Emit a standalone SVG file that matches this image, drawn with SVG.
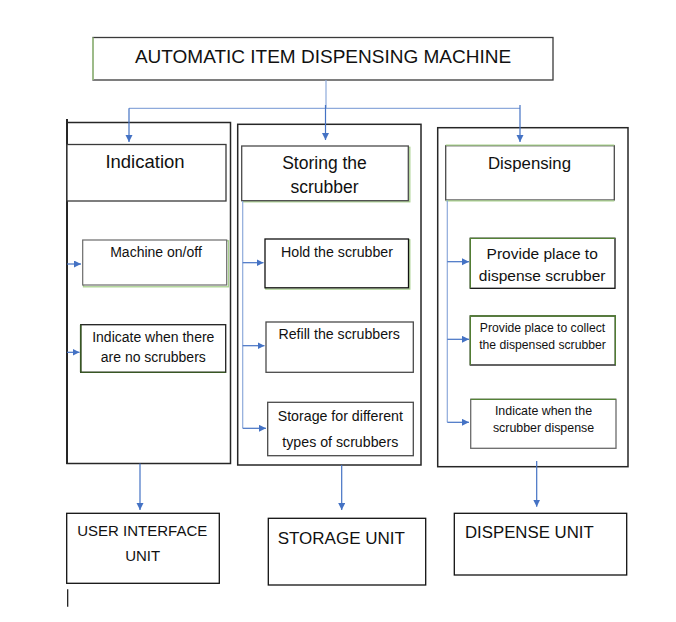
<svg xmlns="http://www.w3.org/2000/svg" width="676" height="622" viewBox="0 0 676 622">
<defs>
<marker id="ah" markerUnits="userSpaceOnUse" markerWidth="8" markerHeight="8" refX="7" refY="3.5" orient="auto">
<path d="M0,0 L7,3.5 L0,7 z" fill="#4472C4"/>
</marker>
<style>
text{font-family:"Liberation Sans",Arial,sans-serif;fill:#111;text-anchor:middle}
.outer{fill:none;stroke:#262626;stroke-width:1.5}
.box{fill:#fff;stroke:#3a3a3a;stroke-width:1.3}
.glow{fill:none;stroke:#a9d18e;stroke-width:1.3}
.dg{fill:none;stroke:#548235;stroke-width:1.3}
.line{fill:none;stroke:#8eaadb;stroke-width:1.2}
.arr{fill:none;stroke:#4472C4;stroke-width:1.2;marker-end:url(#ah)}
.plain{fill:#fff;stroke:#111;stroke-width:1.3}
</style>
</defs>
<rect width="676" height="622" fill="#fff"/>

<g id="title">
<rect x="93" y="37.5" width="460" height="42.5" class="box"/>
<line x1="93" y1="37.5" x2="93" y2="80" stroke="#a9d18e" stroke-width="1.5"/>
<text x="323" y="62.5" font-size="19">AUTOMATIC ITEM DISPENSING MACHINE</text>
</g>

<g id="col-ui">
<rect x="67" y="122.5" width="163.5" height="341" class="outer"/>
<line x1="67" y1="119" x2="67" y2="464" stroke="#262626" stroke-width="2"/>
</g>
<g id="indication">
<rect x="67" y="144.5" width="159" height="56.5" class="box"/>
<text x="145" y="167.5" font-size="18.5">Indication</text>
</g>
<g id="machine-onoff">
<rect x="82.7" y="240" width="145" height="46" class="glow" transform="translate(0.8,0.8)"/>
<rect x="82.7" y="240" width="144" height="45" fill="#fff" stroke="#6b6b6b" stroke-width="1.2"/>
<text x="156" y="257.3" font-size="14">Machine on/off</text>
</g>
<g id="indicate-no">
<rect x="80.7" y="324.7" width="145" height="47.6" fill="#fff" stroke="#1f1f1f" stroke-width="1.3"/>
<line x1="80.7" y1="324.7" x2="80.7" y2="372.3" stroke="#385723" stroke-width="1.6"/>
<line x1="80.7" y1="372.3" x2="225.7" y2="372.3" stroke="#385723" stroke-width="1.3"/>
<text x="153.3" y="341.7" font-size="14">Indicate when there</text>
<text x="153.3" y="361.7" font-size="14">are no scrubbers</text>
</g>

<g id="col-storage">
<rect x="237.7" y="124.3" width="183.3" height="340.7" class="outer"/>
</g>
<g id="storing">
<rect x="242.5" y="146.5" width="166.5" height="54.5" class="glow" transform="translate(0.8,0.8)"/>
<rect x="241.7" y="146" width="166.6" height="54.7" fill="#fff" stroke="#4a4a4a" stroke-width="1.3"/>
<text x="324.5" y="168.5" font-size="17.5">Storing the</text>
<text x="324.5" y="192.7" font-size="17.5">scrubber</text>
</g>
<g id="hold">
<rect x="265" y="239" width="144" height="49.3" class="glow" transform="translate(0.8,0.8)"/>
<rect x="265" y="239" width="143.5" height="48.8" fill="#fff" stroke="#111" stroke-width="1.3"/>
<text x="337" y="257.3" font-size="14.2">Hold the scrubber</text>
</g>
<g id="refill">
<rect x="266" y="322" width="147.3" height="50.3" fill="#fff" stroke="#4a4a4a" stroke-width="1.3"/>
<text x="339.2" y="339.3" font-size="14.2">Refill the scrubbers</text>
</g>
<g id="storage-types">
<rect x="267.7" y="402.3" width="145.6" height="53.4" fill="#fff" stroke="#4a4a4a" stroke-width="1.3"/>
<text x="340.3" y="420.7" font-size="14.2">Storage for different</text>
<text x="340.3" y="447.3" font-size="14.2">types of scrubbers</text>
</g>

<g id="col-dispense">
<rect x="437.7" y="127.7" width="190.3" height="339" class="outer"/>
</g>
<g id="dispensing">
<rect x="445.7" y="145.7" width="168.6" height="54.3" fill="#fff" stroke="#4a4a4a" stroke-width="1.3"/>
<line x1="445.7" y1="145.2" x2="614.3" y2="145.2" stroke="#a9d18e" stroke-width="1.2"/>
<line x1="445.7" y1="200.8" x2="614.3" y2="200.8" stroke="#a9d18e" stroke-width="1.2"/>
<text x="529.5" y="169" font-size="16.8">Dispensing</text>
</g>
<g id="provide-dispense">
<rect x="470.3" y="238.3" width="144.7" height="50" fill="#fff" stroke="#111" stroke-width="1.3"/>
<path d="M470.3,288.3 V238.3 H615" class="dg"/>
<text x="542.2" y="259" font-size="15.5">Provide place to</text>
<text x="542.2" y="280.7" font-size="15.5">dispense scrubber</text>
</g>
<g id="provide-collect">
<rect x="470.3" y="316" width="145" height="49" fill="#fff" stroke="#111" stroke-width="1.3"/>
<path d="M470.3,365 V316 H615.3 V365" class="dg"/>
<text x="542.5" y="331.7" font-size="12.2">Provide place to collect</text>
<text x="542.5" y="349.3" font-size="12.2">the dispensed scrubber</text>
</g>
<g id="indicate-dispense">
<rect x="470.7" y="399.3" width="145.3" height="49" fill="#fff" stroke="#6b6b6b" stroke-width="1.3"/>
<path d="M470.7,399.3 H616" class="dg"/>
<text x="543.5" y="415" font-size="12.4">Indicate when the</text>
<text x="543.5" y="432.3" font-size="12.4">scrubber dispense</text>
</g>

<g id="ui-unit">
<rect x="66.7" y="513.3" width="152.6" height="70" class="plain"/>
<text x="142.3" y="536" font-size="15">USER INTERFACE</text>
<text x="142.7" y="561" font-size="15">UNIT</text>
</g>
<g id="storage-unit">
<rect x="268.3" y="518.3" width="157.4" height="66.7" class="plain"/>
<text x="277.7" y="544.3" font-size="17" style="text-anchor:start">STORAGE UNIT</text>
</g>
<g id="dispense-unit">
<rect x="454.3" y="513.3" width="172.4" height="61.7" class="plain"/>
<text x="465" y="538.3" font-size="16.8" style="text-anchor:start">DISPENSE UNIT</text>
</g>
<line x1="67.7" y1="589.3" x2="67.7" y2="606.7" stroke="#111" stroke-width="1.2"/>

<g id="connectors">
<line x1="326" y1="80" x2="326" y2="108.3" class="line"/>
<line x1="129" y1="108.3" x2="520" y2="108.3" class="line"/>
<line x1="129" y1="108.3" x2="129" y2="142" class="arr"/>
<line x1="325.5" y1="105" x2="325.5" y2="140" class="arr"/>
<line x1="520" y1="105" x2="520" y2="142" class="arr"/>

<line x1="67" y1="264" x2="81" y2="264" class="arr"/>
<line x1="67" y1="352.3" x2="79.5" y2="352.3" class="arr"/>

<line x1="242.7" y1="201" x2="242.7" y2="428.3" class="line"/>
<line x1="242.7" y1="262.7" x2="263.5" y2="262.7" class="arr"/>
<line x1="242.7" y1="345.7" x2="264.5" y2="345.7" class="arr"/>
<line x1="242.7" y1="428.3" x2="266" y2="428.3" class="arr"/>

<line x1="447.3" y1="200.5" x2="447.3" y2="422.3" class="line"/>
<line x1="447.3" y1="261.7" x2="469" y2="261.7" class="arr"/>
<line x1="447.3" y1="339.3" x2="469" y2="339.3" class="arr"/>
<line x1="447.3" y1="422.3" x2="469" y2="422.3" class="arr"/>

<line x1="140" y1="463.5" x2="140" y2="510" class="arr"/>
<line x1="341.7" y1="465" x2="341.7" y2="510" class="arr"/>
<line x1="536.7" y1="461" x2="536.7" y2="506.7" class="arr"/>
</g>
</svg>
